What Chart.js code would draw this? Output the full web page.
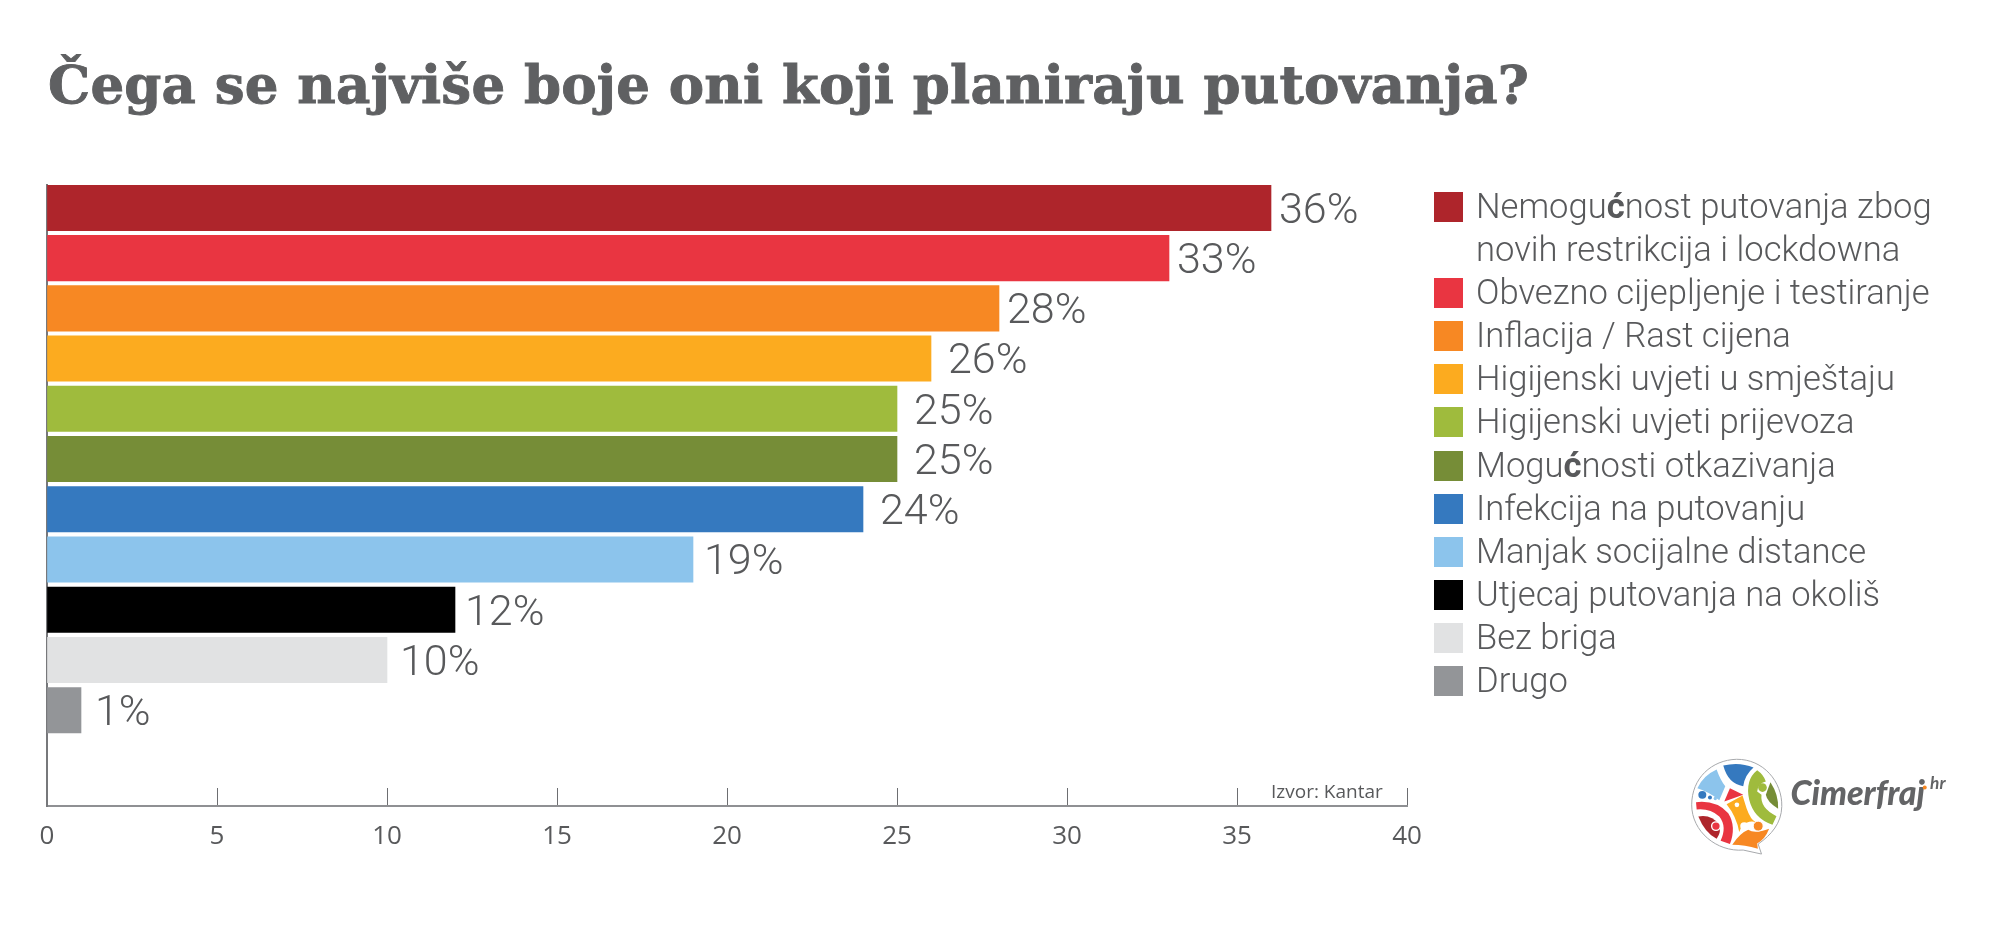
<!DOCTYPE html>
<html lang="hr">
<head>
<meta charset="utf-8">
<title>Čega se najviše boje oni koji planiraju putovanja?</title>
<script src="https://cdn.jsdelivr.net/npm/chart.js@4"></script>
<style>
html,body{margin:0;padding:0;background:#fff;width:2000px;height:926px;overflow:hidden}
#wrap{position:relative;width:2000px;height:926px}
#c{position:absolute;left:0;top:0}
#title{position:absolute;left:48px;top:51px;font:bold 53px "DejaVu Serif",serif;color:#5f6062;letter-spacing:.2px;-webkit-text-stroke:.9px #5f6062;white-space:nowrap;line-height:66px}
#source{position:absolute;left:1271px;top:778px;font:19px "Open Sans",sans-serif;color:#58595b;white-space:nowrap}
#legend{position:absolute;left:1434px;top:185px}
.row{display:flex;align-items:flex-start;font:300 34.6px/43.1px Roboto,sans-serif;color:#58595b;white-space:nowrap}
.sw{width:29px;height:30px;margin:7px 13px 0 0;flex:none}
.row b{font-weight:700}
#logo{position:absolute;left:1680px;top:745px}
</style>
</head>
<body>
<div id="wrap">
<canvas id="c" width="2000" height="926"></canvas>
<div id="title">Čega se najviše boje oni koji planiraju putovanja?</div>
<div id="legend"></div>
<div id="source">Izvor: Kantar</div>
<svg id="logo" width="290" height="125" viewBox="0 0 872 376" xmlns="http://www.w3.org/2000/svg">
<path d="M245,328 L190,316 C110,322 35,260 35,180 C35,100 95,45 170,43 C250,42 308,110 306,185 C305,235 275,270 235,298 Z" fill="#fff" stroke="#a7a9ac" stroke-width="3"/>
<path d="M130,62 Q178,50 221,68 Q195,90 190,124 Q145,118 130,62 Z" fill="#3579bf"/>
<path d="M110,74 Q122,108 136,124 L118,166 Q90,142 52,130 Q70,92 110,74 Z" fill="#8cc4ec"/>
<circle cx="67" cy="150" r="12" fill="#3579bf"/><circle cx="90" cy="158" r="6" fill="#3579bf"/><circle cx="106" cy="161" r="5" fill="#8cc4ec"/>
<path d="M150,130 L190,150 L133,170 Z" fill="#e93541"/>
<path d="M232,76 Q195,105 208,165 Q222,222 278,240 L290,214 Q240,190 245,150 L232,140 Q235,115 258,110 Q252,90 232,76 Z" fill="#9fbb3d"/>
<circle cx="248" cy="128" r="13" fill="#9fbb3d"/>
<path d="M272,112 Q297,150 295,192 Q262,172 258,150 Z" fill="#768d37"/>
<path d="M140,178 L188,152 L200,190 Q212,225 228,232 Q205,225 185,245 L178,262 Q170,215 140,178 Z" fill="#fcab1f"/>
<circle cx="171" cy="180" r="7" fill="#fff"/><circle cx="193" cy="244" r="12" fill="#fff"/>
<path d="M48,172 Q108,165 145,205 Q170,245 150,298 L122,288 Q142,245 118,215 Q90,190 50,194 Z" fill="#e93541"/>
<path d="M55,215 Q95,208 118,240 Q125,262 110,282 Q75,265 55,215 Z" fill="#ae252b"/>
<circle cx="108" cy="244" r="13" fill="#e93541" stroke="#fff" stroke-width="4"/>
<path d="M157,300 Q180,265 205,255 Q225,268 268,252 Q255,285 232,296 L234,312 Q195,300 157,300 Z" fill="#f78823"/>
<circle cx="235" cy="244" r="15" fill="#f78823" stroke="#fff" stroke-width="3"/>
<text x="332" y="180" font-family="Lato, sans-serif" font-weight="900" font-style="italic" font-size="100" textLength="405" lengthAdjust="spacingAndGlyphs" fill="#636466">Cimerfraj</text>
<circle cx="736" cy="128" r="6" fill="#f78823"/>
<text x="752" y="132" font-family="Lato, sans-serif" font-weight="700" font-style="italic" font-size="52" fill="#636466">hr</text>
</svg>
</div>
<script>
const categories = ["Nemogućnost putovanja zbog novih restrikcija i lockdowna","Obvezno cijepljenje i testiranje","Inflacija / Rast cijena","Higijenski uvjeti u smještaju","Higijenski uvjeti prijevoza","Mogućnosti otkazivanja","Infekcija na putovanju","Manjak socijalne distance","Utjecaj putovanja na okoliš","Bez briga","Drugo"];
const legendLines = [["Nemogu<b>ć</b>nost putovanja zbog","novih restrikcija i lockdowna"],["Obvezno cijepljenje i testiranje"],["Inflacija / Rast cijena"],["Higijenski uvjeti u smještaju"],["Higijenski uvjeti prijevoza"],["Mogu<b>ć</b>nosti otkazivanja"],["Infekcija na putovanju"],["Manjak socijalne distance"],["Utjecaj putovanja na okoliš"],["Bez briga"],["Drugo"]];
const values = [36,33,28,26,25,25,24,19,12,10,1];
const colors = ["#ae252b","#e93541","#f78823","#fcab1f","#9fbb3d","#768d37","#3579bf","#8cc4ec","#000000","#e1e2e3","#939598"];
const xTicks = [0,5,10,15,20,25,30,35,40];
const labelGaps = [8,8,8,17,17,17,17,11,10,13,14];

const legendEl = document.getElementById('legend');
legendLines.forEach((lines,i)=>{
  const row = document.createElement('div'); row.className='row';
  const sw = document.createElement('div'); sw.className='sw'; sw.style.background=colors[i];
  const t = document.createElement('div'); t.innerHTML = lines.join('<br>');
  row.append(sw,t); legendEl.append(row);
});

const valueLabels = {
  id:'valueLabels',
  afterDatasetsDraw(chart){
    const ctx = chart.ctx, meta = chart.getDatasetMeta(0);
    ctx.save();
    ctx.font = '300 43px Roboto, sans-serif';
    ctx.fillStyle = '#58595b';
    ctx.textBaseline = 'middle';
    ctx.textAlign = 'left';
    meta.data.forEach((el,i)=> ctx.fillText(values[i]+'%', el.x+labelGaps[i], el.y+4));
    ctx.restore();
  }
};

new Chart(document.getElementById('c'),{
  type:'bar',
  data:{
    labels:categories,
    datasets:[{
      data:values.map((v,i)=>({x:v,y:i})),
      backgroundColor:colors,
      barThickness:45.5,
      borderWidth:0
    }]
  },
  plugins:[valueLabels],
  options:{
    indexAxis:'y',
    responsive:false,
    animation:false,
    layout:{padding:{left:47,right:593,top:185,bottom:0}},
    plugins:{legend:{display:false},title:{display:false},tooltip:{enabled:false}},
    scales:{
      x:{
        type:'linear',min:0,max:40,
        afterBuildTicks(s){s.ticks=xTicks.map(v=>({value:v}));},
        afterFit(s){s.height=120;},
        border:{display:true,color:'#8f9093',width:2},
        grid:{display:true,drawOnChartArea:false,drawTicks:true,tickLength:-18,color:'#6d6e71',lineWidth:1},
        ticks:{padding:33,color:'#58595b',font:{family:'"Open Sans", sans-serif',size:26},maxRotation:0,autoSkip:false}
      },
      y:{
        type:'linear',min:-0.454,max:11.906,reverse:true,offset:false,
        afterFit(s){s.width=0;},
        border:{display:true,color:'#77787b',width:2},
        grid:{display:false,offset:false},
        ticks:{display:false}
      }
    }
  }
});
</script>
</body>
</html>
